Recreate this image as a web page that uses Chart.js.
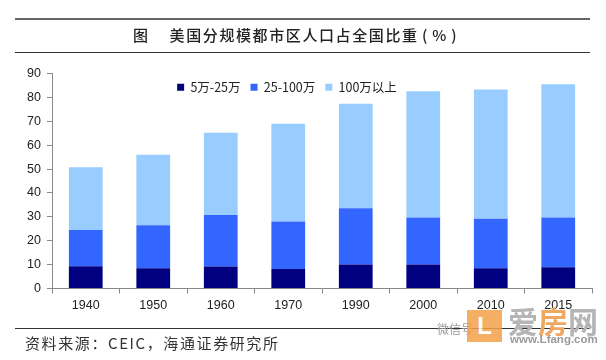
<!DOCTYPE html>
<html>
<head>
<meta charset="utf-8">
<script src="https://cdn.jsdelivr.net/npm/chart.js@4"></script>
<style>
	html, body { margin: 0; background: #fff; }
	#page { position: relative; width: 606px; height: 360px; overflow: hidden; font-family: "Noto Sans CJK SC", sans-serif; color: #222; filter: blur(0.4px); }
	#page div { position: absolute; white-space: nowrap; }
	canvas { position: absolute; left: 0; top: 0; }
	.rule { left: 15px; width: 575px; background: #333; height: 1px; }
	#title { left: 133px; top: 25px; font-size: 15px; line-height: 20px; font-weight: 500; letter-spacing: 1.6px; word-spacing: -1.6px; }
	#source { left: 25px; top: 333px; font-size: 15px; line-height: 20px; color: #333; letter-spacing: 1.6px; }
	#logo { left: 467px; top: 310px; width: 35px; height: 32px; background: #f2a24a; opacity: .85; color: #fff; font: bold 24px/32px "Liberation Sans"; text-align: center; }
	#wechat { left: 437px; top: 321px; font-size: 12px; line-height: 16px; color: #999; }
	#brand { left: 508px; top: 304px; font-size: 30px; line-height: 32px; font-weight: 700; color: #b5b5b5; }
	#brand span { color: #f0a860; }
	#site { left: 510px; top: 333px; font: bold 11.5px/13px "Liberation Sans"; color: #9a9a9a; }
</style>
</head>
<body>
<div id="page">
	<canvas id="chart" width="606" height="360"></canvas>
	<div class="rule" style="top:18px;height:2px;background:#666"></div>
	<div id="title">图　 美国分规模都市区人口占全国比重 ( % )</div>
	<div class="rule" style="top:52px"></div>
	<div class="rule" style="top:328px"></div>
	<div id="source">资料来源：CEIC，海通证券研究所</div>
	<div id="wechat">微信号</div>
	<div id="logo">L</div>
	<div id="brand">爱<span>房</span>网</div>
	<div id="site">www.Lfang.com</div>
</div>
<script>
const years = ['1940', '1950', '1960', '1970', '1990', '2000', '2010', '2015'];
const small = [9.3, 8.5, 9.2, 8.2, 10, 10, 8.5, 8.9];
const medium = [15.2, 18, 21.6, 19.8, 23.6, 19.7, 20.7, 20.8];
const large = [26.3, 29.5, 34.4, 41, 43.7, 52.9, 54.1, 55.8];

// the legend sits inside the plot, left of centre
const moveLegend = {
	id: 'moveLegend',
	afterLayout: (chart) => {
		const legend = chart.legend;
		const w = legend.right - legend.left;
		legend.left = 287 - w / 2;
		legend.right = legend.left + w;
		legend.top = 71;
		legend.bottom = legend.top + 30;
	},
};

const tickFont = { family: 'Liberation Sans', size: 12.5 };

new Chart(document.getElementById('chart'), {
	type: 'bar',
	data: {
		labels: years,
		datasets: [
			{ label: '5万-25万', data: small, backgroundColor: '#000080' },
			{ label: '25-100万', data: medium, backgroundColor: '#3366ff' },
			{ label: '100万以上', data: large, backgroundColor: '#99ccff' },
		],
	},
	options: {
		responsive: false,
		animation: false,
		layout: { padding: { left: 0, right: 14, top: 41, bottom: 41.5 } },
		datasets: { bar: { categoryPercentage: 1, barPercentage: 0.5 } },
		plugins: {
			tooltip: { enabled: false },
			legend: {
				position: 'top',
				labels: {
					font: { family: 'Noto Sans CJK SC, Liberation Sans', size: 12.5 },
					color: '#222',
					boxWidth: 7,
					boxHeight: 7,
					padding: 10,
				},
			},
		},
		scales: {
			x: {
				stacked: true,
				afterFit: (scale) => { scale.height = 30; },
				border: { color: '#888' },
				grid: { drawOnChartArea: false, tickLength: 5, tickColor: '#888' },
				ticks: { font: tickFont, color: '#222', padding: 5, maxRotation: 0 },
			},
			y: {
				stacked: true,
				min: 0,
				max: 90,
				afterFit: (scale) => { scale.width = 52; },
				border: { color: '#888' },
				grid: { drawOnChartArea: false, tickLength: 5, tickColor: '#888' },
				ticks: { stepSize: 10, font: tickFont, color: '#222', padding: 6 },
			},
		},
	},
	plugins: [moveLegend],
});
</script>
</body>
</html>
